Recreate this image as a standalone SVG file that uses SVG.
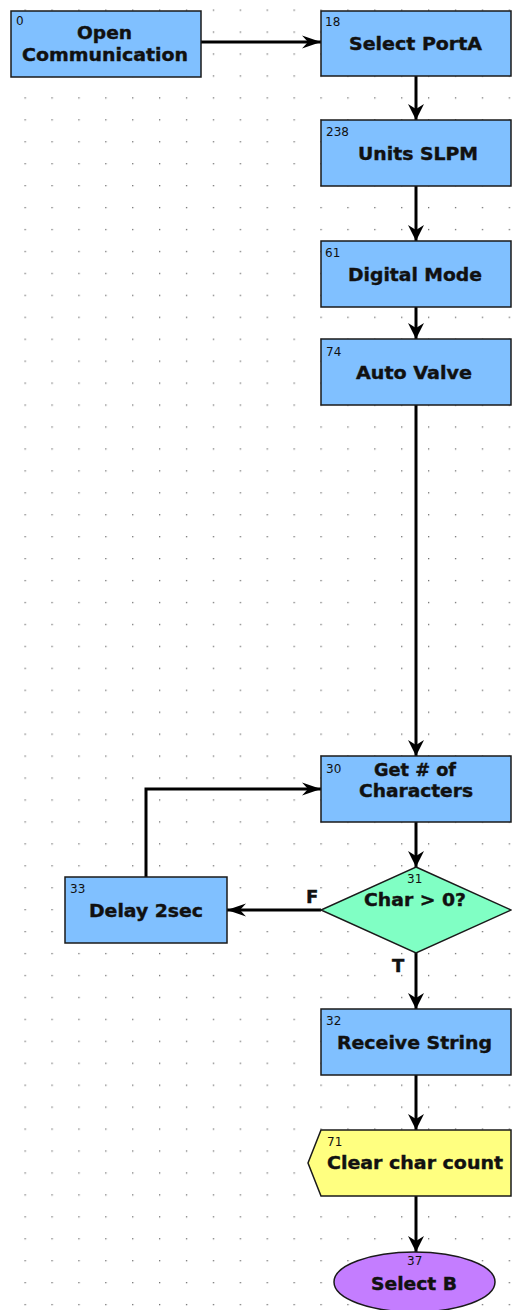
<svg xmlns="http://www.w3.org/2000/svg" width="512" height="1310" viewBox="0 0 512 1310">
<style>
.box{fill:#80C0FF;stroke:#1a1a1a;stroke-width:1.5}
.dec{fill:#80FFC4;stroke:#1a1a1a;stroke-width:1.5}
.yel{fill:#FFFF80;stroke:#1a1a1a;stroke-width:1.5}
.pur{fill:#C47DFF;stroke:#1a1a1a;stroke-width:1.5}
.t{font-family:"DejaVu Sans","Liberation Sans",sans-serif;font-weight:bold;font-size:18px;fill:#111;stroke:#111;stroke-width:0.4}
.n{font-family:"DejaVu Sans","Liberation Sans",sans-serif;font-size:12px;fill:#111}
.c{fill:none;stroke:#000;stroke-width:3}
</style>
<defs>
<pattern id="grid" patternUnits="userSpaceOnUse" x="24.5" y="9.5" width="26.9" height="21.94">
<rect x="0" y="0" width="1.3" height="1.3" fill="#707070"/>
</pattern>
<marker id="arrV" markerUnits="userSpaceOnUse" viewBox="-17 -9 18 18" markerWidth="18" markerHeight="18" refX="0" refY="0" orient="auto">
<path d="M0,0 L-16,-8 L-11,0 L-16,8 Z" fill="#000"/>
</marker>
<marker id="arrH" markerUnits="userSpaceOnUse" viewBox="-20 -7 21 14" markerWidth="21" markerHeight="14" refX="0" refY="0" orient="auto">
<path d="M0,0 L-19,-6.5 L-13,0 L-19,6.5 Z" fill="#000"/>
</marker>
</defs>
<rect x="0" y="0" width="512" height="1310" fill="#FFFFFF"/>
<rect x="0" y="0" width="512" height="1310" fill="url(#grid)"/>

<g id="connectors">
<path class="c" d="M201,42 H321" marker-end="url(#arrH)"/>
<path class="c" d="M416,76 V120" marker-end="url(#arrV)"/>
<path class="c" d="M416,186 V241" marker-end="url(#arrV)"/>
<path class="c" d="M416,307 V339" marker-end="url(#arrV)"/>
<path class="c" d="M416,405 V756" marker-end="url(#arrV)"/>
<path class="c" d="M416,822 V867" marker-end="url(#arrV)"/>
<path class="c" d="M321,910 H227" marker-end="url(#arrH)"/>
<path class="c" d="M146,877 V789 H321" marker-end="url(#arrH)"/>
<path class="c" d="M416,953 V1009" marker-end="url(#arrV)"/>
<path class="c" d="M416,1075 V1130" marker-end="url(#arrV)"/>
<path class="c" d="M416,1196 V1252" marker-end="url(#arrV)"/>
<text class="t" x="306" y="903">F</text>
<text class="t" x="392" y="972">T</text>
</g>

<g id="node0">
<rect class="box" x="11" y="11" width="190" height="66"/>
<text class="n" x="16" y="25">0</text>
<text class="t" x="77" y="39" textLength="55" lengthAdjust="spacingAndGlyphs">Open</text>
<text class="t" x="22" y="61" textLength="166" lengthAdjust="spacingAndGlyphs">Communication</text>
</g>
<g id="node18">
<rect class="box" x="321" y="11" width="190" height="65"/>
<text class="n" x="325" y="26">18</text>
<text class="t" x="349" y="50" textLength="133" lengthAdjust="spacingAndGlyphs">Select PortA</text>
</g>
<g id="node238">
<rect class="box" x="321" y="120" width="190" height="66"/>
<text class="n" x="326" y="136">238</text>
<text class="t" x="358" y="160" textLength="120" lengthAdjust="spacingAndGlyphs">Units SLPM</text>
</g>
<g id="node61">
<rect class="box" x="321" y="241" width="190" height="66"/>
<text class="n" x="325" y="257">61</text>
<text class="t" x="348" y="281" textLength="134" lengthAdjust="spacingAndGlyphs">Digital Mode</text>
</g>
<g id="node74">
<rect class="box" x="321" y="339" width="190" height="66"/>
<text class="n" x="326" y="356">74</text>
<text class="t" x="356" y="379" textLength="116" lengthAdjust="spacingAndGlyphs">Auto Valve</text>
</g>
<g id="node30">
<rect class="box" x="321" y="756" width="190" height="66"/>
<text class="n" x="326" y="773">30</text>
<text class="t" x="374" y="776" textLength="82" lengthAdjust="spacingAndGlyphs">Get # of</text>
<text class="t" x="359" y="797" textLength="114" lengthAdjust="spacingAndGlyphs">Characters</text>
</g>
<g id="node31">
<polygon class="dec" points="416,867 511,910 416,953 321,910"/>
<text class="n" x="407" y="883">31</text>
<text class="t" x="364" y="906" textLength="102" lengthAdjust="spacingAndGlyphs">Char &gt; 0?</text>
</g>
<g id="node33">
<rect class="box" x="65" y="877" width="162" height="66"/>
<text class="n" x="70" y="893">33</text>
<text class="t" x="89" y="917" textLength="114" lengthAdjust="spacingAndGlyphs">Delay 2sec</text>
</g>
<g id="node32">
<rect class="box" x="321" y="1009" width="190" height="66"/>
<text class="n" x="326" y="1025">32</text>
<text class="t" x="337" y="1049" textLength="155" lengthAdjust="spacingAndGlyphs">Receive String</text>
</g>
<g id="node71">
<polygon class="yel" points="321,1130 511,1130 511,1196 321,1196 308,1163"/>
<text class="n" x="327" y="1146">71</text>
<text class="t" x="327" y="1169" textLength="176" lengthAdjust="spacingAndGlyphs">Clear char count</text>
</g>
<g id="node37">
<ellipse class="pur" cx="414.5" cy="1282" rx="80.5" ry="30"/>
<text class="n" x="407" y="1265">37</text>
<text class="t" x="371" y="1290" textLength="86" lengthAdjust="spacingAndGlyphs">Select B</text>
</g>
</svg>
